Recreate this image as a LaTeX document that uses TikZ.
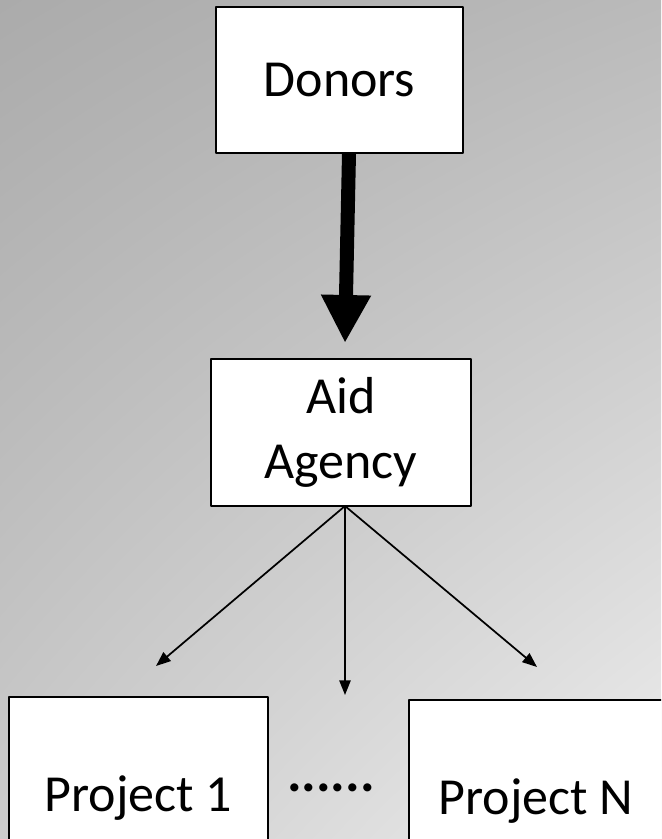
\documentclass[tikz,border=0pt]{standalone}
\usepackage{fontspec}
\setmainfont{Carlito}
\usetikzlibrary{arrows.meta,shadings}
\definecolor{bgUL}{RGB}{171,171,171}
\definecolor{bgUR}{RGB}{186,186,186}
\definecolor{bgLL}{RGB}{203,203,203}
\definecolor{bgLR}{RGB}{238,238,238}
\begin{document}
\begin{tikzpicture}[x=0.75pt,y=-0.75pt, line join=round,
		box/.style={draw=black, line width=1.1pt, fill=white, align=center, inner sep=0pt, font=\fontsize{39}{48.75}\selectfont},
		thin arrow/.style={-{Triangle[length=11pt,width=8.5pt]}, line width=1.3pt},
		thick arrow/.style={-{Triangle[length=36pt,width=35pt]}, line width=10.5pt}]
	% background
	\shade[upper left=bgUL, upper right=bgUR, lower left=bgLL, lower right=bgLR] (0,0) rectangle (661,839);
	\useasboundingbox (0,0) rectangle (661,839);
	\clip (0,0) rectangle (661,839);
	% boxes
	\node[box, minimum width=185.25pt, minimum height=109.5pt] (donors) at (339.5,80) {Donors};
	\node[box, minimum width=195pt, minimum height=110.25pt] (agency) at (341,432.5) {Aid\\Agency};
	\node[box, minimum width=194.25pt, minimum height=151.5pt] (proj1) at (138.5,798) {Project 1};
	\node[box, minimum width=190.5pt, minimum height=151.5pt] (projN) at (536,801) {Project N};
	\node[font=\fontsize{41}{48.75}\selectfont\bfseries, inner sep=0pt] (dots) at (331,788) {......};
	% arrows
	\coordinate (hub) at (345,506);
	\coordinate (endL) at (156,666);
	\coordinate (endM) at (345,695);
	\coordinate (endR) at (537,667);
	\draw[thick arrow] (donors.south -| 349,0) -- (345,343);
	\foreach \e in {endL,endM,endR}{
		\draw[thin arrow] (hub)--(\e);
	}
\end{tikzpicture}
\end{document}
